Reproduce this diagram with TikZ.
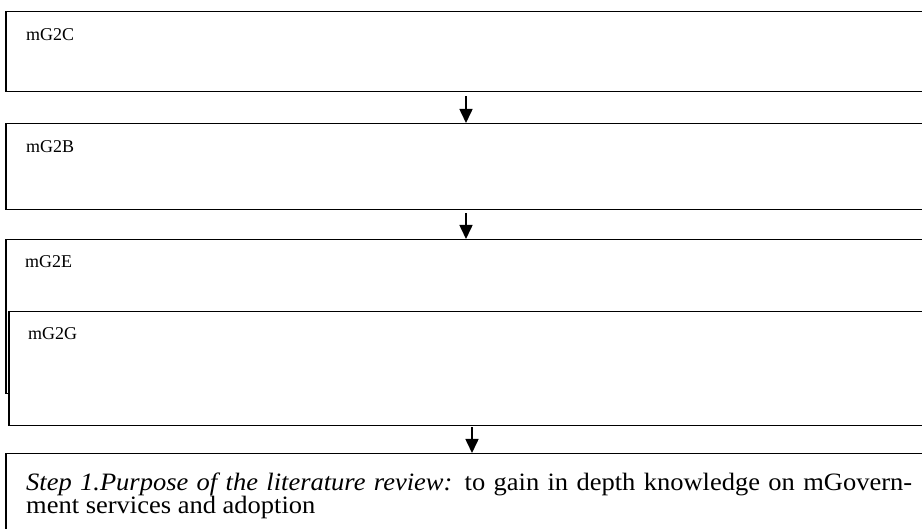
\documentclass[tikz,border=0pt]{standalone}
\usepackage{fontspec}
\setmainfont{Liberation Serif}
\usetikzlibrary{arrows.meta,calc}
\begin{document}
\begin{tikzpicture}[x=1pt,y=-1pt,
  box/.style={draw,line width=1.5pt,rectangle,anchor=north west,inner sep=0pt,fill=white},
  lbl/.style={anchor=base west,inner sep=0pt,font=\fontsize{18}{20}\selectfont},
  body/.style={anchor=base west,inner sep=0pt,font=\fontsize{25}{22}\selectfont\addfontfeature{FakeStretch=1.06}},
  arr/.style={line width=1.6pt,-{Triangle[width=13pt,length=14pt]}}]
\useasboundingbox (0,0) rectangle (922,529);
\clip (0,0) rectangle (922,529);
\node[box,minimum width=930pt,minimum height=80pt] (c) at (5,11) {};
\node[box,minimum width=930pt,minimum height=86pt] (b) at (5,123) {};
\node[box,minimum width=930pt,minimum height=154pt] (e) at (5,239) {};
\node[box,minimum width=930pt,minimum height=114pt] (g) at (8,311) {};
\node[box,minimum width=930pt,minimum height=100pt] (s) at (5,453) {};
\node[lbl] (tc) at (26,41) {mG2C};
\node[lbl] (tb) at (26,153) {mG2B};
\node[lbl] (te) at (25,268) {mG2E};
\node[lbl] (tg) at (28,340) {mG2G};
\node[body] (ts1) at (26,490)
  {\makebox[886pt][s]{\textit{Step 1.Purpose of the literature review:} to gain in depth knowledge on mGovern-}};
\node[body] (ts2) at (26,513) {ment services and adoption};
\coordinate (ax) at (466,0);
\coordinate (ax3) at (472,0);
\draw[arr] ([yshift=-4pt]c.south -| ax) -- (b.north -| ax);
\draw[arr] ([yshift=-3pt]b.south -| ax) -- (e.north -| ax);
\draw[arr] ([yshift=-1pt]g.south -| ax3) -- (s.north -| ax3);
\end{tikzpicture}
\end{document}
